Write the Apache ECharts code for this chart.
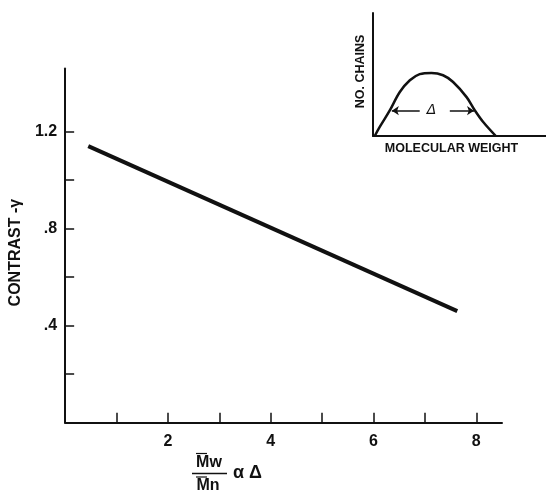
<!DOCTYPE html>
<html>
<head>
<meta charset="utf-8">
<script src="https://cdn.jsdelivr.net/npm/echarts@6.0.0/dist/echarts.min.js"></script>
<style>
    html, body { margin: 0; padding: 0; background: #fff; }
    #main { width: 546px; height: 492px; }
</style>
</head>
<body>
<div id="main"></div>
<script>
// main plot: contrast vs polydispersity
var contrastLine = [[0.45, 1.14], [7.63, 0.46]];
var xTickValues = [1, 2, 3, 4, 5, 6, 7, 8];
var xLabelValues = [2, 4, 6, 8];
var yTickValues = [0.2, 0.4, 0.6, 0.8, 1.0, 1.2];
var yLabelValues = [0.4, 0.8, 1.2];
var yLabelTexts = ['.4', '.8', '1.2'];

// inset: molecular weight distribution (arbitrary units 0-100)
var insetCurve = [
    [1.0, 0], [3.9, 7.4], [9.7, 20.8], [15.5, 35.8], [21.3, 45.3], [27.0, 50.3],
    [33.8, 51.3], [40.5, 49.4], [46.3, 43.9], [54.1, 31.6], [58.9, 20.8],
    [63.7, 11.4], [71.0, 0]
];
var deltaLeft = [[10.9, 20.6], [27.0, 20.6]];
var deltaRight = [[44.4, 20.6], [58.4, 20.6]];
var deltaLabelPos = [33.8, 20.6];

var ink = '#111';
var font = '"Liberation Sans", Arial, sans-serif';

var myChart = echarts.init(document.getElementById('main'));

function yLabelFormatter(v) {
    for (var i = 0; i < yLabelValues.length; i++) {
        if (Math.abs(yLabelValues[i] - v) < 1e-6) {
            return yLabelTexts[i];
        }
    }
    return '';
}

var option = {
    backgroundColor: '#fff',
    animation: false,
    grid: [
        {left: 64, right: 44, top: 68.5, bottom: 69.3},
        {left: 373, right: 0, top: 13, height: 123}
    ],
    xAxis: [
        {
            gridIndex: 0,
            type: 'value',
            min: 0,
            max: 8.5,
            axisLine: {lineStyle: {color: ink, width: 2}},
            axisTick: {inside: true, length: 10, customValues: xTickValues, lineStyle: {color: ink, width: 1.5}},
            axisLabel: {customValues: xLabelValues, margin: 11, color: ink, fontFamily: font, fontWeight: 'bold', fontSize: 16},
            splitLine: {show: false}
        },
        {
            gridIndex: 1,
            type: 'value',
            min: 0,
            max: 100,
            axisLine: {lineStyle: {color: ink, width: 2}},
            axisTick: {show: false},
            axisLabel: {show: false},
            splitLine: {show: false},
            name: 'MOLECULAR WEIGHT',
            nameLocation: 'middle',
            nameGap: 6,
            nameTextStyle: {color: ink, fontFamily: font, fontWeight: 'bold', fontSize: 12.5, verticalAlign: 'top', padding: [0, 16, 0, 0]}
        }
    ],
    yAxis: [
        {
            gridIndex: 0,
            type: 'value',
            min: 0,
            max: 1.46,
            axisLine: {lineStyle: {color: ink, width: 2}},
            axisTick: {inside: true, length: 9, customValues: yTickValues, lineStyle: {color: ink, width: 1.5}},
            axisLabel: {customValues: yLabelValues, formatter: yLabelFormatter, margin: 8, color: ink, fontFamily: font, fontWeight: 'bold', fontSize: 16},
            splitLine: {show: false},
            name: 'CONTRAST -\u03b3',
            nameLocation: 'middle',
            nameGap: 36,
            nameTextStyle: {color: ink, fontFamily: font, fontWeight: 'bold', fontSize: 16, padding: [0, 14, 0, 0]}
        },
        {
            gridIndex: 1,
            type: 'value',
            min: 0,
            max: 100,
            axisLine: {lineStyle: {color: ink, width: 2}},
            axisTick: {show: false},
            axisLabel: {show: false},
            splitLine: {show: false},
            name: 'NO. CHAINS',
            nameLocation: 'middle',
            nameGap: 6,
            nameTextStyle: {color: ink, fontFamily: font, fontWeight: 'bold', fontSize: 12.5, padding: [0, 0, 0, 6]}
        }
    ],
    series: [
        {
            name: 'contrast',
            type: 'line',
            xAxisIndex: 0,
            yAxisIndex: 0,
            data: contrastLine,
            symbol: 'none',
            lineStyle: {color: ink, width: 4, cap: 'butt'}
        },
        {
            name: 'distribution',
            type: 'line',
            xAxisIndex: 1,
            yAxisIndex: 1,
            data: insetCurve,
            symbol: 'none',
            smooth: 0.35,
            lineStyle: {color: ink, width: 2.5},
            markLine: {
                silent: true,
                animation: false,
                symbolSize: 7,
                label: {show: false},
                lineStyle: {color: ink, width: 1.5, type: 'solid'},
                data: [
                    [{coord: deltaLeft[0], symbol: 'arrow'}, {coord: deltaLeft[1], symbol: 'none'}],
                    [{coord: deltaRight[0], symbol: 'none'}, {coord: deltaRight[1], symbol: 'arrow'}]
                ]
            },
            markPoint: {
                silent: true,
                symbol: 'circle',
                symbolSize: 1,
                itemStyle: {color: 'rgba(0,0,0,0)'},
                label: {
                    show: true,
                    position: 'inside',
                    formatter: '\u0394',
                    color: ink,
                    fontFamily: '"DejaVu Sans", sans-serif',
                    fontStyle: 'italic',
                    fontSize: 14
                },
                data: [{coord: deltaLabelPos}]
            }
        }
    ],
    // x axis title: Mw/Mn (with overbars) alpha Delta
    graphic: [
        {type: 'text', x: 209, y: 463, style: {text: 'Mw', fill: ink, font: 'bold 16px ' + font, textAlign: 'center', textVerticalAlign: 'middle'}},
        {type: 'line', shape: {x1: 196, y1: 453.5, x2: 207, y2: 453.5}, style: {stroke: ink, lineWidth: 1.2}},
        {type: 'line', shape: {x1: 192, y1: 473.5, x2: 227, y2: 473.5}, style: {stroke: ink, lineWidth: 1.5}},
        {type: 'line', shape: {x1: 196, y1: 477, x2: 207, y2: 477}, style: {stroke: ink, lineWidth: 1.2}},
        {type: 'text', x: 208, y: 486, style: {text: 'Mn', fill: ink, font: 'bold 16px ' + font, textAlign: 'center', textVerticalAlign: 'middle'}},
        {type: 'text', x: 233, y: 473, style: {text: '\u03b1 \u0394', fill: ink, font: 'bold 18px ' + font, textAlign: 'left', textVerticalAlign: 'middle'}}
    ]
};

myChart.setOption(option, true);
window.onresize = myChart.resize;
</script>
</body>
</html>
